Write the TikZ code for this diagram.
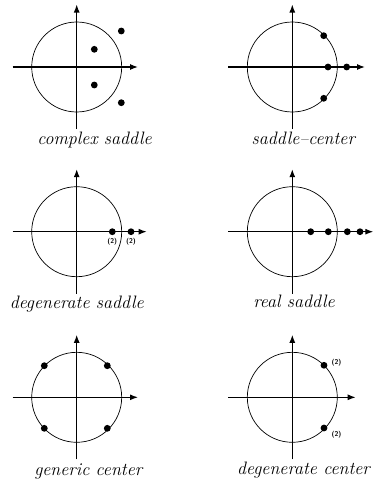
\documentclass[tikz,border=0pt]{standalone}
\usetikzlibrary{arrows.meta,positioning}

\begin{document}
\begin{tikzpicture}[x=1pt,y=-1pt,
  axis/.style={line width=1.2pt,-{Latex[length=8pt,width=6pt]}},
  unit/.style={line width=0.7pt},
  eig/.style={circle,fill=black,inner sep=0pt,minimum size=6.8pt},
  mult/.style={font=\sffamily\bfseries\fontsize{7}{8}\selectfont,inner sep=0pt},
  caption/.style={font=\itshape\fontsize{18}{21}\selectfont,anchor=base,inner sep=0pt}]
\useasboundingbox (0,0) rectangle (375,482);

% unit circle and axes of the six panels
\foreach \p/\ox/\oy/\xr in {cs/76.7/67/61.3, sc/292.3/67/72.7, ds/76.7/231.7/70,
    rs/292.3/231.7/81, gc/76.7/397.3/61.3, dc/292.3/397.3/63.4}{
  \begin{scope}[shift={(\ox,\oy)}]
    \coordinate (\p-w) at (-64,0);
    \coordinate (\p-e) at (\xr,0);
    \coordinate (\p-s) at (0,62);
    \coordinate (\p-n) at (0,-62.5);
    \draw[unit] (0,0) circle[radius=45];
    \draw[axis] (\p-w) -- (\p-e);
    \draw[axis] (\p-s) -- (\p-n);
  \end{scope}
}

% complex saddle
\node[eig] (cs1) at (94.3,49.3) {};
\node[eig] (cs2) at (94.3,85) {};
\node[eig] (cs3) at (121.3,31) {};
\node[eig] (cs4) at (121.3,102.7) {};
\node[caption] (cscap) at (94.5,144.5) {complex saddle};

% saddle-center
\node[eig] (sc1) at (323.7,35.7) {};
\node[eig] (sc2) at (328,67) {};
\node[eig] (sc3) at (346.7,67) {};
\node[eig] (sc4) at (323.7,98.3) {};
\node[caption] (sccap) at (303.3,144.5) {saddle--center};

% degenerate saddle
\node[eig] (ds1) at (112.3,231.7) {};
\node[eig] (ds2) at (131,231.7) {};
\node[mult,below=3pt of ds1] (ds1m) {(2)};
\node[mult,below=3pt of ds2] (ds2m) {(2)};
\node[caption] (dscap) at (76.7,308) {degenerate saddle};

% real saddle
\node[eig] (rs1) at (310.7,231.7) {};
\node[eig] (rs2) at (328.3,231.7) {};
\node[eig] (rs3) at (347.3,231.7) {};
\node[eig] (rs4) at (360,231.7) {};
\node[caption] (rscap) at (294,307) {real saddle};

% generic center
\node[eig] (gc1) at (44.3,365.7) {};
\node[eig] (gc2) at (107.3,365.7) {};
\node[eig] (gc3) at (44.3,428.3) {};
\node[eig] (gc4) at (107.3,428.3) {};
\node[caption] (gccap) at (88.3,475) {generic center};

% degenerate center
\node[eig] (dc1) at (324,365.3) {};
\node[eig] (dc2) at (324,428) {};
\node[mult] (dc1m) at (336.5,362.5) {(2)};
\node[mult] (dc2m) at (336.5,434.3) {(2)};
\node[caption] (dccap) at (303.5,474.5) {degenerate center};
\end{tikzpicture}
\end{document}
